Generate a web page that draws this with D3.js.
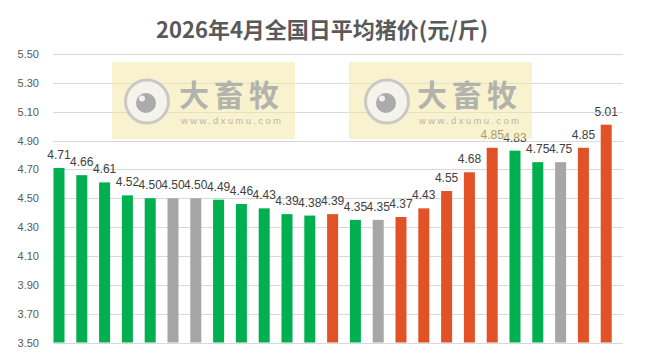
<!DOCTYPE html>
<html><head><meta charset="utf-8">
<script src="https://cdn.jsdelivr.net/npm/d3@7"></script>
<style>html,body{margin:0;padding:0;background:#fff;}svg{display:block;}</style>
</head><body>
<svg id="chart" width="649" height="363"></svg>
<script>
const title = "2026年4月全国日平均猪价(元/斤)";
const days = d3.range(1, 26).map(d => "D" + d);
const prices = [4.71,4.66,4.61,4.52,4.50,4.50,4.50,4.49,4.46,4.43,4.39,4.38,4.39,4.35,4.35,4.37,4.43,4.55,4.68,4.85,4.83,4.75,4.75,4.85,5.01];
const trend = ["down","down","down","down","down","flat","flat","down","down","down","down","down","up","down","flat","up","up","up","up","up","down","down","flat","up","up"];
const yTicks = [3.50,3.70,3.90,4.10,4.30,4.50,4.70,4.90,5.10,5.30,5.50];
const watermarkText = "大畜牧";
const watermarkUrl = "www.dxumu.com";

const colors = {down:"#00B050", flat:"#A6A6A6", up:"#E15326"};
const svg = d3.select("#chart");
const plotL = 53, plotR = 623, plotT = 54, plotB = 342.5;

const x = d3.scaleBand().domain(days).range([plotL, plotR]).paddingInner(0).paddingOuter(0);
const y = d3.scaleLinear().domain([3.5, 5.5]).range([plotB, plotT]);

// title
svg.append("text").attr("x", 322).attr("y", 38).attr("text-anchor","middle")
  .attr("font-family","'Noto Sans CJK SC', sans-serif").attr("font-weight","bold")
  .attr("font-size", 22).attr("fill","#595959").text(title);

// gridlines
svg.append("g").selectAll("line").data(yTicks).join("line")
  .attr("x1", plotL).attr("x2", plotR)
  .attr("y1", d => Math.round(y(d)) + 0.5).attr("y2", d => Math.round(y(d)) + 0.5)
  .attr("stroke", "#D9D9D9").attr("stroke-width", 1);

// y axis labels
const yAxis = d3.axisLeft(y).tickValues(yTicks).tickFormat(d3.format(".2f")).tickSize(0).tickPadding(0);
const gy = svg.append("g").attr("transform", `translate(39,0)`).call(yAxis);
gy.select(".domain").remove();
gy.selectAll("text").attr("font-family","'Liberation Sans', Arial, sans-serif").attr("font-size", 11).attr("fill","#595959");

// bars
const bw = 11;
svg.append("g").selectAll("rect").data(prices).join("rect")
  .attr("x", (d,i) => x(days[i]) + 0.5)
  .attr("width", bw)
  .attr("y", d => y(d))
  .attr("height", d => y(3.5) - y(d))
  .attr("fill", (d,i) => colors[trend[i]]);

// labels
svg.append("g").selectAll("text").data(prices).join("text")
  .attr("x", (d,i) => x(days[i]) + 0.5 + bw/2)
  .attr("y", d => y(d) - 9)
  .attr("text-anchor","middle")
  .attr("font-family","'Liberation Sans', Arial, sans-serif").attr("font-size", 12)
  .attr("fill","#404040")
  .text(d => d3.format(".2f")(d));

// watermarks
const marks = [{x0:112, x1:295, cx:147, tx:179}, {x0:349, x1:532, cx:387, tx:417}];
marks.forEach(m => {
  const g = svg.append("g");
  g.append("rect").attr("x", m.x0).attr("y", 62).attr("width", m.x1 - m.x0).attr("height", 77)
    .attr("fill", "#F2EAA6").attr("opacity", 0.55);
  g.append("circle").attr("cx", m.cx).attr("cy", 101.5).attr("r", 21.5)
    .attr("fill","#F4F4F0").attr("stroke","#C4C4C4").attr("stroke-width", 3).attr("opacity", 0.9);
  g.append("circle").attr("cx", m.cx - 1).attr("cy", 103).attr("r", 10).attr("fill","#ABABAB");
  g.append("circle").attr("cx", m.cx - 5).attr("cy", 98.5).attr("r", 3).attr("fill","#F0F0F0");
  g.append("text").attr("x", m.tx).attr("y", 106).attr("font-family","'Noto Sans CJK SC', sans-serif")
    .attr("font-weight","bold").attr("font-size", 30).attr("fill","#A8A8A8").attr("opacity",0.85)
    .attr("textLength", 100).text(watermarkText);
  g.append("text").attr("x", m.tx + 2).attr("y", 124).attr("font-family","'Liberation Sans', Arial, sans-serif")
    .attr("font-size", 9.5).attr("fill","#B4B4B4").attr("textLength", 100).text(watermarkUrl);
});
</script>
</body></html>
